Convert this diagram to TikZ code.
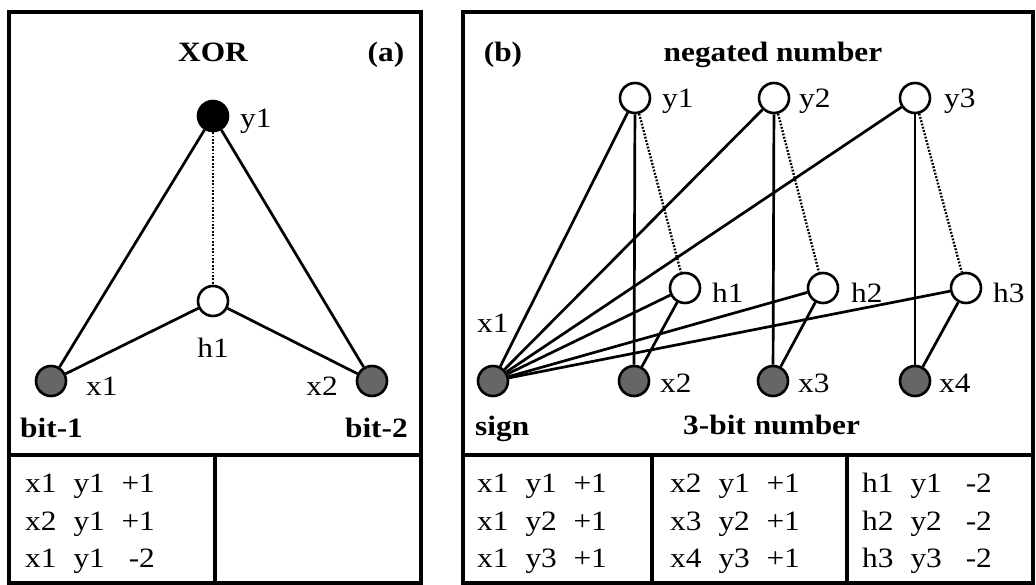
\documentclass[tikz,border=0pt]{standalone}
\usepackage{fontspec}
\setmainfont{Liberation Serif}[FakeStretch=1.12]
\tikzset{
  unit/.style={circle,draw,line width=2.6pt,minimum size=30pt,inner sep=0pt,fill=white},
  outunit/.style={unit,fill=black},
  inunit/.style={unit,fill=black!60},
  link/.style={line width=2.7pt},
  inhib/.style={line width=2.4pt,dash pattern=on 1.8pt off 1.6pt},
  lbl/.style={font=\fontsize{28}{34}\selectfont,inner sep=0pt},
  ttl/.style={font=\fontsize{28}{34}\selectfont\bfseries,inner sep=0pt},
  frame/.style={line width=3.5pt},
}
\newcommand{\wrow}[3]{#1\hspace{17pt}#2\hspace{17pt}\makebox[33pt][r]{#3}}
\begin{document}
\begin{tikzpicture}[x=1pt,y=-1pt]
  \useasboundingbox (0,0) rectangle (1036,585);
  \fill[white] (0,0) rectangle (1036,585);
  % frames
  \draw[frame] (9,12) rectangle (421,583);
  \draw[frame] (9,455) -- (421,455);
  \draw[frame] (215,455) -- (215,583);
  \draw[frame] (463,12) rectangle (1033,583);
  \draw[frame] (463,455) -- (1033,455);
  \draw[frame] (652,455) -- (652,583) (847,455) -- (847,583);

  % (a) XOR
  \node[ttl,anchor=base] (xor) at (213,62) {XOR};
  \node[ttl,anchor=base] (pa) at (386,62) {(a)};
  \node[outunit] (y1a) at (213,116) {};
  \node[unit] (h1a) at (213,301) {};
  \node[inunit] (x1a) at (51,381) {};
  \node[inunit] (x2a) at (372,381) {};
  \draw[link] (y1a) -- (x1a) (y1a) -- (x2a) (h1a) -- (x1a) (h1a) -- (x2a);
  \draw[inhib] (y1a) -- (h1a);
  \node[lbl,anchor=base west] (ly1a) at (240,128) {y1};
  \node[lbl,anchor=base] (lh1a) at (213,357) {h1};
  \node[lbl,anchor=base west] (lx1a) at (86,395) {x1};
  \node[lbl,anchor=base east] (lx2a) at (338,395) {x2};
  \node[ttl,anchor=base west] (bit1) at (20,437) {bit-1};
  \node[ttl,anchor=base east] (bit2) at (408,437) {bit-2};
  \foreach \a/\b/\c [count=\i] in {x1/y1/+1,x2/y1/+1,x1/y1/-2}
    \node[lbl,anchor=base west] (ta\i) at (25,{455+37.5*\i}) {\wrow{\a}{\b}{\c}};

  % (b) negation
  \node[ttl,anchor=base] (pb) at (503,62) {(b)};
  \node[ttl,anchor=base] (neg) at (773,62) {negated number};
  \node[unit] (yb1) at (635,98) {};
  \node[unit] (yb2) at (774,98) {};
  \node[unit] (yb3) at (915,98) {};
  \node[unit] (hb1) at (685,288) {};
  \node[unit] (hb2) at (823,288) {};
  \node[unit] (hb3) at (966,288) {};
  \node[inunit] (xb1) at (493,381) {};
  \node[inunit] (xb2) at (634,381) {};
  \node[inunit] (xb3) at (773,381) {};
  \node[inunit] (xb4) at (915,381) {};
  \foreach \i in {1,2,3} {
    \pgfmathtruncatemacro\j{\i+1}
    \draw[link] (xb1) -- (yb\i);
    \draw[link] (xb1) -- (hb\i);
    \draw[link] (yb\i) -- (xb\j);
    \draw[link] (hb\i) -- (xb\j);
    \draw[inhib] (yb\i) -- (hb\i);
  }
  \node[lbl,anchor=base west] (lyb1) at (662,108) {y1};
  \node[lbl,anchor=base west] (lyb2) at (799,108) {y2};
  \node[lbl,anchor=base west] (lyb3) at (944,108) {y3};
  \node[lbl,anchor=base west] (lhb1) at (712,302) {h1};
  \node[lbl,anchor=base west] (lhb2) at (851,302) {h2};
  \node[lbl,anchor=base west] (lhb3) at (993,302) {h3};
  \node[lbl,anchor=base west] (lxb1) at (477,332) {x1};
  \node[lbl,anchor=base west] (lxb2) at (660,392) {x2};
  \node[lbl,anchor=base west] (lxb3) at (798,392) {x3};
  \node[lbl,anchor=base west] (lxb4) at (939,392) {x4};
  \node[ttl,anchor=base west] (sgn) at (475,435) {sign};
  \node[ttl,anchor=base west] (num) at (683,434) {3-bit number};
  \foreach \a/\b/\c [count=\i] in {x1/y1/+1,x1/y2/+1,x1/y3/+1}
    \node[lbl,anchor=base west] (tb\i) at (477,{455+37.5*\i}) {\wrow{\a}{\b}{\c}};
  \foreach \a/\b/\c [count=\i] in {x2/y1/+1,x3/y2/+1,x4/y3/+1}
    \node[lbl,anchor=base west] (tc\i) at (670,{455+37.5*\i}) {\wrow{\a}{\b}{\c}};
  \foreach \a/\b/\c [count=\i] in {h1/y1/-2,h2/y2/-2,h3/y3/-2}
    \node[lbl,anchor=base west] (td\i) at (862,{455+37.5*\i}) {\wrow{\a}{\b}{\c}};
\end{tikzpicture}
\end{document}
